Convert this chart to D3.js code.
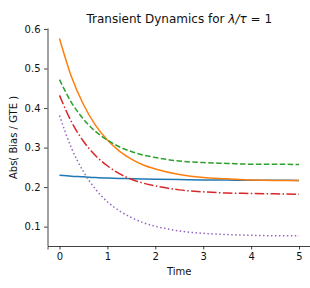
<!DOCTYPE html>
<html><head><meta charset="utf-8">
<script src="https://cdn.jsdelivr.net/npm/d3@7"></script>
<style>body{margin:0;background:#fff}svg{display:block}</style>
</head><body><svg id="c" width="310" height="288"></svg>
<script>
const times = [0,0.25,0.5,0.75,1,1.25,1.5,1.75,2,2.5,3,3.5,4,4.5,5];
const blue   = [0.230,0.2275,0.226,0.224,0.223,0.222,0.221,0.2205,0.220,0.219,0.218,0.2177,0.2174,0.2172,0.217];
const orange = [0.576,0.479,0.409,0.357,0.319,0.291,0.271,0.256,0.246,0.232,0.224,0.221,0.218,0.217,0.217];
const green  = [0.472,0.414,0.372,0.341,0.319,0.302,0.290,0.281,0.275,0.266,0.262,0.260,0.258,0.258,0.257];
const red    = [0.432,0.365,0.316,0.280,0.254,0.234,0.220,0.210,0.203,0.193,0.188,0.185,0.184,0.183,0.182];
const purple = [0.381,0.299,0.239,0.195,0.163,0.140,0.123,0.110,0.101,0.089,0.083,0.080,0.078,0.077,0.077];
const xTicks = [0,1,2,3,4,5];
const yTicks = [0.1,0.2,0.3,0.4,0.5,0.6];

const series = [
  {v: blue,   color:"#1f77b4", dash:null},
  {v: orange, color:"#ff7f0e", dash:null},
  {v: green,  color:"#2ca02c", dash:"5.55,2.4"},
  {v: red,    color:"#d62728", dash:"9.6,2.4,1.5,2.4"},
  {v: purple, color:"#9467bd", dash:"1.5,2.475"}
];

const svg = d3.select("#c");
const L = 47.5, R = 311, T = 29, B = 246;
const x = d3.scaleLinear().domain([-0.25,5.25]).range([L,R]);
const y = d3.scaleLinear().domain([0.051,0.6]).range([B,T]);
const font = "DejaVu Sans, sans-serif";
const ink = "#111";

const line = d3.line().x((d,i)=>x(times[i])).y(d=>y(d)).curve(d3.curveMonotoneX);
series.forEach(s=>{
  svg.append("path").attr("d", line(s.v)).attr("fill","none")
    .attr("stroke", s.color).attr("stroke-width",1.5)
    .attr("stroke-dasharray", s.dash);
});

const xa = svg.append("g").attr("transform",`translate(0,${B})`)
  .call(d3.axisBottom(x).tickValues(xTicks).tickFormat(d3.format("d")).tickSizeOuter(0).tickSize(3.5).tickPadding(3.5));
const ya = svg.append("g").attr("transform",`translate(${L},0)`)
  .call(d3.axisLeft(y).tickValues(yTicks).tickFormat(d3.format(".1f")).tickSizeOuter(0).tickSize(3.5).tickPadding(3.5));
[xa,ya].forEach(a=>{
  a.selectAll("text").attr("font-family",font).attr("font-size",10).attr("fill",ink);
  a.selectAll("line").attr("stroke",ink).attr("stroke-width",0.8);
  a.select(".domain").attr("stroke",ink).attr("stroke-width",0.8);
});
ya.select(".domain").attr("d",`M0.5,${B}V${T-0.5}`);

svg.append("text").attr("x",(L+R)/2).attr("y",275).attr("text-anchor","middle")
  .attr("font-family",font).attr("font-size",10).attr("fill",ink).text("Time");
svg.append("text").attr("transform",`translate(17,${(T+B)/2}) rotate(-90)`).attr("text-anchor","middle")
  .attr("font-family",font).attr("font-size",10).attr("fill",ink).text("Abs( Bias / GTE )");

const title = svg.append("text").attr("x",(L+R)/2).attr("y",23).attr("text-anchor","middle")
  .attr("font-family",font).attr("font-size",12).attr("fill",ink);
title.append("tspan").text("Transient Dynamics for ");
title.append("tspan").attr("font-style","italic").text("λ/τ");
title.append("tspan").text(" = 1");
</script></body></html>
